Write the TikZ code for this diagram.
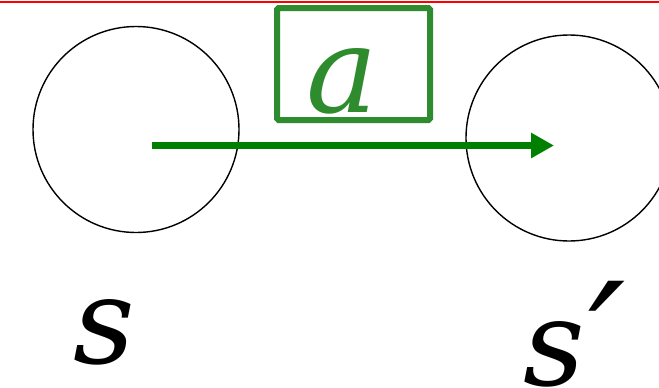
\documentclass[tikz,border=0pt]{standalone}
\usepackage{fontspec}
\newfontfamily\mathlike{DejaVu Serif}
\usetikzlibrary{arrows.meta,shadows}
\definecolor{arrowgreen}{HTML}{008000}
\definecolor{boxgreen}{HTML}{2E8B2E}
\tikzset{
  state/.style={circle, draw=black, line width=1.4pt, minimum size=206pt, inner sep=0pt},
  actbox/.style={draw=boxgreen, line width=6pt, rounded corners=1.5pt, minimum width=153pt, minimum height=112pt, inner sep=0pt, fill=white,
    drop shadow={shadow xshift=1.5pt, shadow yshift=-2.5pt, opacity=0.25, fill=black}},
  bigmath/.style={inner sep=0pt, font=\mathlike\itshape\fontsize{120}{120}\selectfont},
  actarrow/.style={draw=arrowgreen, line width=7pt, -{Triangle[length=23pt,width=24pt]}}
}
\begin{document}
\begin{tikzpicture}[x=1pt,y=-1pt]
\useasboundingbox (0,0) rectangle (659,388);
\clip (0,0) rectangle (659,388);
\draw[red, line width=1.5pt] (0,2) -- (659,2);
\node[state] (s) at (136,129.5) {};
\node[state] (sp) at (569,138) {};
\node[actbox] (box) at (353.5,64) {};
\node[bigmath, text=boxgreen, anchor=base] (alabel) at (342,112) {a};
\coordinate (astart) at (152,145.5);
\coordinate (aend) at (554,145.5);
\draw[actarrow] (astart) -- (aend);
\node[bigmath, anchor=base] (slabel) at (104,363) {s};
\node[bigmath, anchor=base west] (splabel) at (523,385) {s\hspace{4pt}{\fontsize{165}{165}\selectfont\raisebox{-16pt}{′}}};
\end{tikzpicture}
\end{document}
